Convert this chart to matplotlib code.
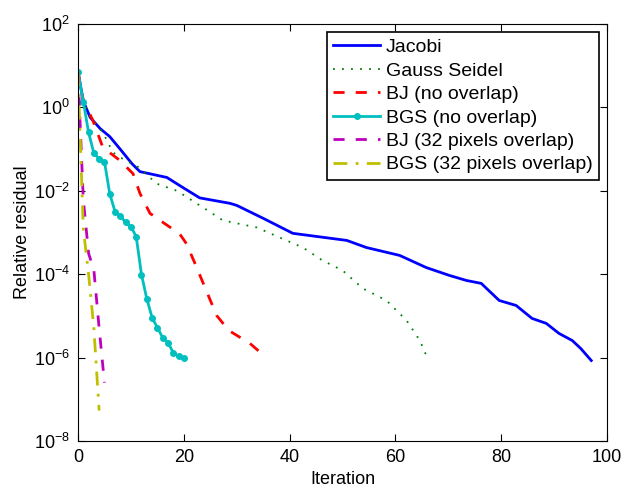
import matplotlib
matplotlib.use("Agg")
import matplotlib.pyplot as plt
import numpy as np

plt.rcParams['font.family'] = ['Liberation Sans', 'DejaVu Sans']

# data (log10 of relative residual)
jac_x = [0, 1, 2.3, 4.2, 6, 7.9, 10.2, 11.7, 16.8, 19.8, 23, 28.7, 30, 35, 40.6, 50.8,
         54.5, 60.8, 65.8, 70.2, 73.4, 76.2, 79.6, 82.8, 85.8, 88.5, 90.9, 93.4, 95, 97]
jac_y = [0.85, 0.15, -0.24, -0.51, -0.70, -0.99, -1.35, -1.54, -1.68, -1.92, -2.17, -2.30, -2.35,
         -2.66, -3.02, -3.19, -3.36, -3.55, -3.84, -4.03, -4.15, -4.22, -4.63, -4.75, -5.06,
         -5.18, -5.42, -5.59, -5.78, -6.07]

gs_x = [0, 1, 2.3, 4.7, 6.6, 8.9, 11.1, 14.9, 18.7, 23, 27.4, 33.8, 38.1, 42.5, 46.2,
        50, 53.8, 58.3, 62.1, 64.6, 66]
gs_y = [0.85, 0.15, -0.24, -0.6, -1.08, -1.27, -1.4, -1.83, -2.0, -2.35, -2.71, -2.88,
        -3.12, -3.36, -3.67, -3.91, -4.34, -4.63, -5.11, -5.59, -6.0]

bj_x = [0, 1, 2.8, 4.7, 7.9, 10.4, 11.7, 13.6, 15.5, 19.2, 20.5, 22.1, 24, 26.2, 28.5,
        32.5, 35.3]
bj_y = [0.85, 0.17, -0.31, -0.96, -1.27, -1.59, -2.06, -2.54, -2.71, -3.03, -3.27, -3.74,
        -4.32, -4.99, -5.35, -5.66, -5.97]

bgs_x = list(range(21))
bgs_y = [0.84, 0.14, -0.6, -1.1, -1.23, -1.30, -2.07, -2.5, -2.6, -2.76, -2.86, -3.1,
         -4.01, -4.59, -5.04, -5.28, -5.52, -5.64, -5.88, -5.97, -6.02]

bj32_x = [0, 1, 2, 3, 4, 5]
bj32_y = [0.84, -2.2, -3.5, -3.9, -5.3, -6.6]

bgs32_x = [0, 1, 2, 3, 4]
bgs32_y = [0.84, -2.9, -4.0, -5.3, -7.27]

labels = ['Jacobi', 'Gauss Seidel', 'BJ (no overlap)', 'BGS (no overlap)',
          'BJ (32 pixels overlap)', 'BGS (32 pixels overlap)']

fig = plt.figure(figsize=(6.24, 4.9), dpi=100)
ax = fig.add_axes([0.125, 0.100, 0.848, 0.851])

ax.semilogy(jac_x, 10 ** np.array(jac_y), color='#0000ff', lw=2, label=labels[0])
ax.semilogy(gs_x, 10 ** np.array(gs_y), color='#008000', lw=1.3, ls=(0, (1, 4)), label=labels[1])
ax.semilogy(bj_x, 10 ** np.array(bj_y), color='#ff0000', lw=2, ls=(0, (4, 4)), label=labels[2])
ax.semilogy(bgs_x, 10 ** np.array(bgs_y), color='#00bfbf', lw=2, marker='o', ms=4,
            label=labels[3])
ax.semilogy(bj32_x, 10 ** np.array(bj32_y), color='#bf00bf', lw=2, ls=(0, (4, 4)),
            label=labels[4])
ax.semilogy(bgs32_x, 10 ** np.array(bgs32_y), color='#bfbf00', lw=2,
            ls=(0, (5, 3, 1, 3)), label=labels[5])

ax.set_xlim(0, 100)
ax.set_ylim(1e-8, 1e2)
ax.set_xticks([0, 20, 40, 60, 80, 100])
ax.set_yticks([1e-8, 1e-6, 1e-4, 1e-2, 1e0, 1e2])
ax.yaxis.set_minor_locator(matplotlib.ticker.NullLocator())
ax.tick_params(direction='in', top=True, right=True, labelsize=13, length=5, pad=6)
ax.set_xlabel('Iteration', fontsize=13, labelpad=3)
ax.set_ylabel('Relative residual', fontsize=13, labelpad=2)

leg = ax.legend(loc='upper right', fontsize=14, handlelength=2.4, borderaxespad=0.4,
                labelspacing=0.3, handletextpad=0.3, fancybox=False, framealpha=1,
                edgecolor='black', borderpad=0.35)
leg.get_frame().set_linewidth(1.2)

plt.savefig('out.png', dpi=100)
